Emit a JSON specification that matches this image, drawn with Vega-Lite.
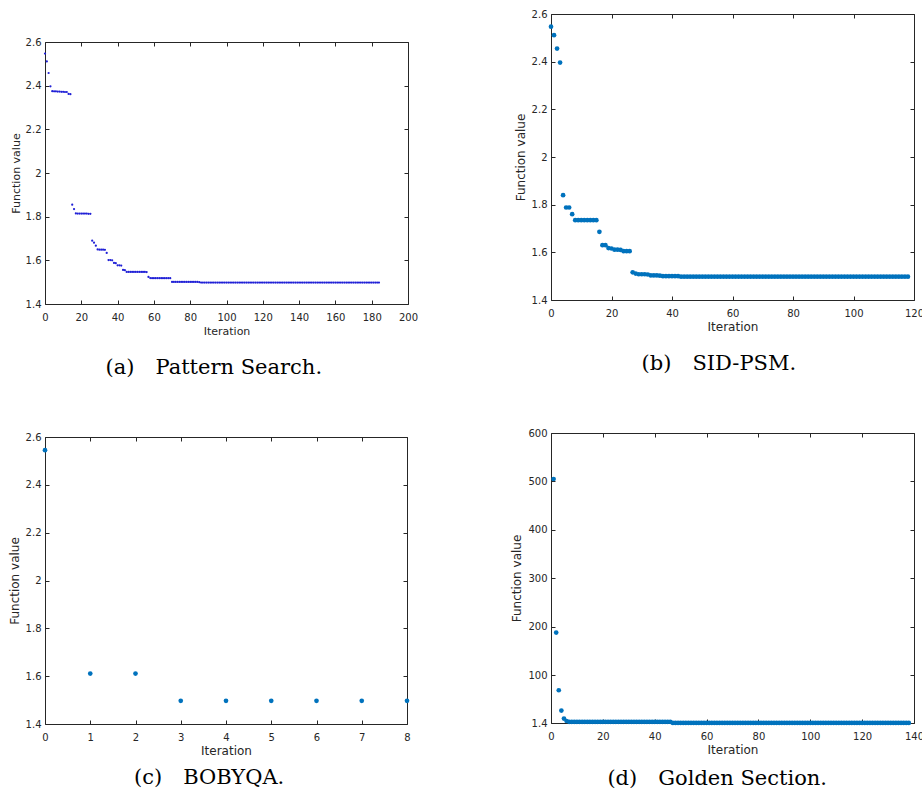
{
"$schema": "https://vega.github.io/schema/vega-lite/v6.json",
"background": "white",
"padding": {"left": 7, "top": 8, "right": 0, "bottom": 0},
"datasets": {
"pa": [{"i":0,"f":2.547},{"i":1,"f":2.511},{"i":2,"f":2.458},{"i":3,"f":2.397},{"i":4,"f":2.375},{"i":5,"f":2.374},{"i":6,"f":2.374},{"i":7,"f":2.373},{"i":8,"f":2.373},{"i":9,"f":2.372},{"i":10,"f":2.372},{"i":11,"f":2.371},{"i":12,"f":2.371},{"i":13,"f":2.362},{"i":14,"f":2.361},{"i":15,"f":1.855},{"i":16,"f":1.835},{"i":17,"f":1.815},{"i":18,"f":1.814},{"i":19,"f":1.814},{"i":20,"f":1.814},{"i":21,"f":1.814},{"i":22,"f":1.814},{"i":23,"f":1.814},{"i":24,"f":1.813},{"i":25,"f":1.813},{"i":26,"f":1.690},{"i":27,"f":1.681},{"i":28,"f":1.667},{"i":29,"f":1.650},{"i":30,"f":1.649},{"i":31,"f":1.649},{"i":32,"f":1.649},{"i":33,"f":1.648},{"i":34,"f":1.634},{"i":35,"f":1.601},{"i":36,"f":1.601},{"i":37,"f":1.600},{"i":38,"f":1.588},{"i":39,"f":1.587},{"i":40,"f":1.577},{"i":41,"f":1.577},{"i":42,"f":1.576},{"i":43,"f":1.556},{"i":44,"f":1.555},{"i":45,"f":1.547},{"i":46,"f":1.547},{"i":47,"f":1.547},{"i":48,"f":1.547},{"i":49,"f":1.547},{"i":50,"f":1.547},{"i":51,"f":1.547},{"i":52,"f":1.547},{"i":53,"f":1.547},{"i":54,"f":1.547},{"i":55,"f":1.547},{"i":56,"f":1.546},{"i":57,"f":1.524},{"i":58,"f":1.519},{"i":59,"f":1.518},{"i":60,"f":1.518},{"i":61,"f":1.518},{"i":62,"f":1.518},{"i":63,"f":1.518},{"i":64,"f":1.518},{"i":65,"f":1.518},{"i":66,"f":1.518},{"i":67,"f":1.518},{"i":68,"f":1.518},{"i":69,"f":1.518},{"i":70,"f":1.501},{"i":71,"f":1.501},{"i":72,"f":1.501},{"i":73,"f":1.501},{"i":74,"f":1.501},{"i":75,"f":1.501},{"i":76,"f":1.501},{"i":77,"f":1.501},{"i":78,"f":1.501},{"i":79,"f":1.501},{"i":80,"f":1.501},{"i":81,"f":1.501},{"i":82,"f":1.501},{"i":83,"f":1.501},{"i":84,"f":1.501},{"i":85,"f":1.500},{"i":86,"f":1.498},{"i":87,"f":1.498},{"i":88,"f":1.498},{"i":89,"f":1.498},{"i":90,"f":1.498},{"i":91,"f":1.498},{"i":92,"f":1.498},{"i":93,"f":1.498},{"i":94,"f":1.498},{"i":95,"f":1.498},{"i":96,"f":1.498},{"i":97,"f":1.498},{"i":98,"f":1.498},{"i":99,"f":1.498},{"i":100,"f":1.498},{"i":101,"f":1.498},{"i":102,"f":1.498},{"i":103,"f":1.498},{"i":104,"f":1.498},{"i":105,"f":1.498},{"i":106,"f":1.498},{"i":107,"f":1.498},{"i":108,"f":1.498},{"i":109,"f":1.498},{"i":110,"f":1.498},{"i":111,"f":1.498},{"i":112,"f":1.498},{"i":113,"f":1.498},{"i":114,"f":1.498},{"i":115,"f":1.498},{"i":116,"f":1.498},{"i":117,"f":1.498},{"i":118,"f":1.498},{"i":119,"f":1.498},{"i":120,"f":1.498},{"i":121,"f":1.498},{"i":122,"f":1.498},{"i":123,"f":1.498},{"i":124,"f":1.498},{"i":125,"f":1.498},{"i":126,"f":1.498},{"i":127,"f":1.498},{"i":128,"f":1.498},{"i":129,"f":1.498},{"i":130,"f":1.498},{"i":131,"f":1.498},{"i":132,"f":1.498},{"i":133,"f":1.498},{"i":134,"f":1.498},{"i":135,"f":1.498},{"i":136,"f":1.498},{"i":137,"f":1.498},{"i":138,"f":1.498},{"i":139,"f":1.498},{"i":140,"f":1.498},{"i":141,"f":1.498},{"i":142,"f":1.498},{"i":143,"f":1.498},{"i":144,"f":1.498},{"i":145,"f":1.498},{"i":146,"f":1.498},{"i":147,"f":1.498},{"i":148,"f":1.498},{"i":149,"f":1.498},{"i":150,"f":1.498},{"i":151,"f":1.498},{"i":152,"f":1.498},{"i":153,"f":1.498},{"i":154,"f":1.498},{"i":155,"f":1.498},{"i":156,"f":1.498},{"i":157,"f":1.498},{"i":158,"f":1.498},{"i":159,"f":1.498},{"i":160,"f":1.498},{"i":161,"f":1.498},{"i":162,"f":1.498},{"i":163,"f":1.498},{"i":164,"f":1.498},{"i":165,"f":1.498},{"i":166,"f":1.498},{"i":167,"f":1.498},{"i":168,"f":1.498},{"i":169,"f":1.498},{"i":170,"f":1.498},{"i":171,"f":1.498},{"i":172,"f":1.498},{"i":173,"f":1.498},{"i":174,"f":1.498},{"i":175,"f":1.498},{"i":176,"f":1.498},{"i":177,"f":1.498},{"i":178,"f":1.498},{"i":179,"f":1.498},{"i":180,"f":1.498},{"i":181,"f":1.498},{"i":182,"f":1.498},{"i":183,"f":1.498},{"i":184,"f":1.498}],
"pb": [{"i":0,"f":2.547},{"i":1,"f":2.511},{"i":2,"f":2.455},{"i":3,"f":2.396},{"i":4,"f":1.840},{"i":5,"f":1.788},{"i":6,"f":1.788},{"i":7,"f":1.760},{"i":8,"f":1.735},{"i":9,"f":1.735},{"i":10,"f":1.735},{"i":11,"f":1.735},{"i":12,"f":1.735},{"i":13,"f":1.735},{"i":14,"f":1.735},{"i":15,"f":1.735},{"i":16,"f":1.686},{"i":17,"f":1.630},{"i":18,"f":1.630},{"i":19,"f":1.618},{"i":20,"f":1.616},{"i":21,"f":1.611},{"i":22,"f":1.611},{"i":23,"f":1.610},{"i":24,"f":1.605},{"i":25,"f":1.605},{"i":26,"f":1.605},{"i":27,"f":1.516},{"i":28,"f":1.511},{"i":29,"f":1.508},{"i":30,"f":1.508},{"i":31,"f":1.508},{"i":32,"f":1.507},{"i":33,"f":1.503},{"i":34,"f":1.503},{"i":35,"f":1.503},{"i":36,"f":1.502},{"i":37,"f":1.500},{"i":38,"f":1.500},{"i":39,"f":1.500},{"i":40,"f":1.500},{"i":41,"f":1.500},{"i":42,"f":1.500},{"i":43,"f":1.498},{"i":44,"f":1.498},{"i":45,"f":1.498},{"i":46,"f":1.498},{"i":47,"f":1.498},{"i":48,"f":1.498},{"i":49,"f":1.498},{"i":50,"f":1.498},{"i":51,"f":1.498},{"i":52,"f":1.498},{"i":53,"f":1.498},{"i":54,"f":1.498},{"i":55,"f":1.498},{"i":56,"f":1.498},{"i":57,"f":1.498},{"i":58,"f":1.498},{"i":59,"f":1.498},{"i":60,"f":1.498},{"i":61,"f":1.498},{"i":62,"f":1.498},{"i":63,"f":1.498},{"i":64,"f":1.498},{"i":65,"f":1.498},{"i":66,"f":1.498},{"i":67,"f":1.498},{"i":68,"f":1.498},{"i":69,"f":1.498},{"i":70,"f":1.498},{"i":71,"f":1.498},{"i":72,"f":1.498},{"i":73,"f":1.498},{"i":74,"f":1.498},{"i":75,"f":1.498},{"i":76,"f":1.498},{"i":77,"f":1.498},{"i":78,"f":1.498},{"i":79,"f":1.498},{"i":80,"f":1.498},{"i":81,"f":1.498},{"i":82,"f":1.498},{"i":83,"f":1.498},{"i":84,"f":1.498},{"i":85,"f":1.498},{"i":86,"f":1.498},{"i":87,"f":1.498},{"i":88,"f":1.498},{"i":89,"f":1.498},{"i":90,"f":1.498},{"i":91,"f":1.498},{"i":92,"f":1.498},{"i":93,"f":1.498},{"i":94,"f":1.498},{"i":95,"f":1.498},{"i":96,"f":1.498},{"i":97,"f":1.498},{"i":98,"f":1.498},{"i":99,"f":1.498},{"i":100,"f":1.498},{"i":101,"f":1.498},{"i":102,"f":1.498},{"i":103,"f":1.498},{"i":104,"f":1.498},{"i":105,"f":1.498},{"i":106,"f":1.498},{"i":107,"f":1.498},{"i":108,"f":1.498},{"i":109,"f":1.498},{"i":110,"f":1.498},{"i":111,"f":1.498},{"i":112,"f":1.498},{"i":113,"f":1.498},{"i":114,"f":1.498},{"i":115,"f":1.498},{"i":116,"f":1.498},{"i":117,"f":1.498},{"i":118,"f":1.498}],
"pc": [{"i":0,"f":2.545},{"i":1,"f":1.611},{"i":2,"f":1.611},{"i":3,"f":1.497},{"i":4,"f":1.497},{"i":5,"f":1.497},{"i":6,"f":1.497},{"i":7,"f":1.497},{"i":8,"f":1.497}],
"pd": [{"i":1,"f":505},{"i":2,"f":188},{"i":3,"f":69},{"i":4,"f":27},{"i":5,"f":10.5},{"i":6,"f":5.5},{"i":7,"f":3.8},{"i":8,"f":3.8},{"i":9,"f":3.8},{"i":10,"f":3.8},{"i":11,"f":3.8},{"i":12,"f":3.8},{"i":13,"f":3.8},{"i":14,"f":3.8},{"i":15,"f":3.8},{"i":16,"f":3.8},{"i":17,"f":3.8},{"i":18,"f":3.8},{"i":19,"f":3.8},{"i":20,"f":3.8},{"i":21,"f":3.8},{"i":22,"f":3.8},{"i":23,"f":3.8},{"i":24,"f":3.8},{"i":25,"f":3.8},{"i":26,"f":3.8},{"i":27,"f":3.8},{"i":28,"f":3.8},{"i":29,"f":3.8},{"i":30,"f":3.8},{"i":31,"f":3.8},{"i":32,"f":3.8},{"i":33,"f":3.8},{"i":34,"f":3.8},{"i":35,"f":3.8},{"i":36,"f":3.8},{"i":37,"f":3.8},{"i":38,"f":3.8},{"i":39,"f":3.8},{"i":40,"f":3.8},{"i":41,"f":3.8},{"i":42,"f":3.8},{"i":43,"f":3.8},{"i":44,"f":3.8},{"i":45,"f":3.8},{"i":46,"f":3.8},{"i":47,"f":1.6},{"i":48,"f":1.6},{"i":49,"f":1.6},{"i":50,"f":1.6},{"i":51,"f":1.6},{"i":52,"f":1.6},{"i":53,"f":1.6},{"i":54,"f":1.6},{"i":55,"f":1.6},{"i":56,"f":1.6},{"i":57,"f":1.6},{"i":58,"f":1.6},{"i":59,"f":1.6},{"i":60,"f":1.6},{"i":61,"f":1.6},{"i":62,"f":1.6},{"i":63,"f":1.6},{"i":64,"f":1.6},{"i":65,"f":1.6},{"i":66,"f":1.6},{"i":67,"f":1.6},{"i":68,"f":1.6},{"i":69,"f":1.6},{"i":70,"f":1.6},{"i":71,"f":1.6},{"i":72,"f":1.6},{"i":73,"f":1.6},{"i":74,"f":1.6},{"i":75,"f":1.6},{"i":76,"f":1.6},{"i":77,"f":1.6},{"i":78,"f":1.6},{"i":79,"f":1.6},{"i":80,"f":1.6},{"i":81,"f":1.6},{"i":82,"f":1.6},{"i":83,"f":1.6},{"i":84,"f":1.6},{"i":85,"f":1.6},{"i":86,"f":1.6},{"i":87,"f":1.6},{"i":88,"f":1.6},{"i":89,"f":1.6},{"i":90,"f":1.6},{"i":91,"f":1.6},{"i":92,"f":1.6},{"i":93,"f":1.6},{"i":94,"f":1.6},{"i":95,"f":1.6},{"i":96,"f":1.6},{"i":97,"f":1.6},{"i":98,"f":1.6},{"i":99,"f":1.6},{"i":100,"f":1.6},{"i":101,"f":1.6},{"i":102,"f":1.6},{"i":103,"f":1.6},{"i":104,"f":1.6},{"i":105,"f":1.6},{"i":106,"f":1.6},{"i":107,"f":1.6},{"i":108,"f":1.6},{"i":109,"f":1.6},{"i":110,"f":1.6},{"i":111,"f":1.6},{"i":112,"f":1.6},{"i":113,"f":1.6},{"i":114,"f":1.6},{"i":115,"f":1.6},{"i":116,"f":1.6},{"i":117,"f":1.6},{"i":118,"f":1.6},{"i":119,"f":1.6},{"i":120,"f":1.6},{"i":121,"f":1.6},{"i":122,"f":1.6},{"i":123,"f":1.6},{"i":124,"f":1.6},{"i":125,"f":1.6},{"i":126,"f":1.6},{"i":127,"f":1.6},{"i":128,"f":1.6},{"i":129,"f":1.6},{"i":130,"f":1.6},{"i":131,"f":1.6},{"i":132,"f":1.6},{"i":133,"f":1.6},{"i":134,"f":1.6},{"i":135,"f":1.6},{"i":136,"f":1.6},{"i":137,"f":1.6},{"i":138,"f":1.6}]
},
"spacing": 91,
"hconcat": [
 {"spacing": 52, "vconcat": [
   {"spacing": 0, "vconcat": [
     {"width": 363, "height": 21, "data": {"values": [{"s": 0}]}, "mark": {"type": "point", "opacity": 0}, "view": {"stroke": "transparent"}},
     {"width": 363, "height": 262, "data": {"name": "pa"},
      "title": {"text": "(a)\u2003Pattern Search.", "orient": "bottom", "anchor": "middle", "frame": "bounds", "offset": 21},
      "layer": [
       {"mark": {"type": "circle", "size": 5, "color": "#1f1fd6", "opacity": 1},
        "encoding": {
         "x": {"field": "i", "type": "quantitative", "scale": {"domain": [0, 200], "nice": false, "zero": false}, "axis": {"title": "Iteration", "titleFontSize": 11, "values": [0,20,40,60,80,100,120,140,160,180,200]}},
         "y": {"field": "f", "type": "quantitative", "scale": {"domain": [1.4, 2.6], "nice": false, "zero": false}, "axis": {"title": "Function value", "titleFontSize": 11, "values": [1.4,1.6,1.8,2,2.2,2.4,2.6], "format": "~g"}}}},
       {"mark": {"type": "circle", "opacity": 0},
        "encoding": {
         "x": {"field": "i", "type": "quantitative", "axis": {"orient": "top", "labels": false, "title": null, "values": [0,20,40,60,80,100,120,140,160,180,200]}},
         "y": {"field": "f", "type": "quantitative", "axis": {"orient": "right", "labels": false, "title": null, "values": [1.4,1.6,1.8,2,2.2,2.4,2.6]}}}}
      ],
      "resolve": {"axis": {"x": "independent", "y": "independent"}}}
   ]},
   {"width": 362, "height": 287, "data": {"name": "pc"},
    "title": {"text": "(c)\u2003BOBYQA.", "orient": "bottom", "anchor": "middle", "frame": "bounds", "offset": 11},
    "layer": [
     {"mark": {"type": "circle", "size": 22, "color": "#0072BD", "opacity": 1},
      "encoding": {
       "x": {"field": "i", "type": "quantitative", "scale": {"domain": [0, 8], "nice": false, "zero": false}, "axis": {"title": "Iteration", "values": [0,1,2,3,4,5,6,7,8]}},
       "y": {"field": "f", "type": "quantitative", "scale": {"domain": [1.4, 2.6], "nice": false, "zero": false}, "axis": {"title": "Function value", "values": [1.4,1.6,1.8,2,2.2,2.4,2.6], "format": "~g"}}}},
     {"mark": {"type": "circle", "opacity": 0},
      "encoding": {
       "x": {"field": "i", "type": "quantitative", "axis": {"orient": "top", "labels": false, "title": null, "values": [0,1,2,3,4,5,6,7,8]}},
       "y": {"field": "f", "type": "quantitative", "axis": {"orient": "right", "labels": false, "title": null, "values": [1.4,1.6,1.8,2,2.2,2.4,2.6]}}}}
    ],
    "resolve": {"axis": {"x": "independent", "y": "independent"}}}
 ]},
 {"spacing": 52, "vconcat": [
   {"width": 363, "height": 286, "data": {"name": "pb"},
    "title": {"text": "(b)\u2003SID-PSM.", "orient": "bottom", "anchor": "middle", "frame": "bounds", "offset": 21},
    "layer": [
     {"mark": {"type": "circle", "size": 22, "color": "#0072BD", "opacity": 1},
      "encoding": {
       "x": {"field": "i", "type": "quantitative", "scale": {"domain": [0, 120], "nice": false, "zero": false}, "axis": {"title": "Iteration", "values": [0,20,40,60,80,100,120]}},
       "y": {"field": "f", "type": "quantitative", "scale": {"domain": [1.4, 2.6], "nice": false, "zero": false}, "axis": {"title": "Function value", "values": [1.4,1.6,1.8,2,2.2,2.4,2.6], "format": "~g"}}}},
     {"mark": {"type": "circle", "opacity": 0},
      "encoding": {
       "x": {"field": "i", "type": "quantitative", "axis": {"orient": "top", "labels": false, "title": null, "values": [0,20,40,60,80,100,120]}},
       "y": {"field": "f", "type": "quantitative", "axis": {"orient": "right", "labels": false, "title": null, "values": [1.4,1.6,1.8,2,2.2,2.4,2.6]}}}}
    ],
    "resolve": {"axis": {"x": "independent", "y": "independent"}}},
   {"width": 363, "height": 290, "data": {"name": "pd"},
    "title": {"text": "(d)\u2003Golden Section.", "orient": "bottom", "anchor": "middle", "frame": "bounds", "offset": 13},
    "layer": [
     {"mark": {"type": "circle", "size": 22, "color": "#0072BD", "opacity": 1},
      "encoding": {
       "x": {"field": "i", "type": "quantitative", "scale": {"domain": [0, 140], "nice": false, "zero": false}, "axis": {"title": "Iteration", "values": [0,20,40,60,80,100,120,140]}},
       "y": {"field": "f", "type": "quantitative", "scale": {"domain": [1.4, 600], "nice": false, "zero": false}, "axis": {"title": "Function value", "values": [1.4,100,200,300,400,500,600], "labelExpr": "datum.value < 50 ? '1.4' : format(datum.value, 'd')"}}}},
     {"mark": {"type": "circle", "opacity": 0},
      "encoding": {
       "x": {"field": "i", "type": "quantitative", "axis": {"orient": "top", "labels": false, "title": null, "values": [0,20,40,60,80,100,120,140]}},
       "y": {"field": "f", "type": "quantitative", "axis": {"orient": "right", "labels": false, "title": null, "values": [1.4,100,200,300,400,500,600]}}}}
    ],
    "resolve": {"axis": {"x": "independent", "y": "independent"}}}
 ]}
],
"config": {
 "view": {"stroke": "#262626", "strokeWidth": 1},
 "axis": {"domain": false, "grid": false, "tickSize": -4, "tickColor": "#262626", "labelFont": "DejaVu Sans", "labelFontSize": 10, "labelColor": "#262626", "titleFont": "DejaVu Sans", "titleFontSize": 12, "titleFontWeight": "normal", "titleColor": "#262626", "labelFlush": false, "labelOverlap": false},
 "axisX": {"labelPadding": 12, "titlePadding": 3},
 "axisY": {"labelPadding": 8, "titlePadding": 4},
 "title": {"font": "DejaVu Serif", "fontSize": 21, "fontWeight": "normal", "color": "black"}
}
}
